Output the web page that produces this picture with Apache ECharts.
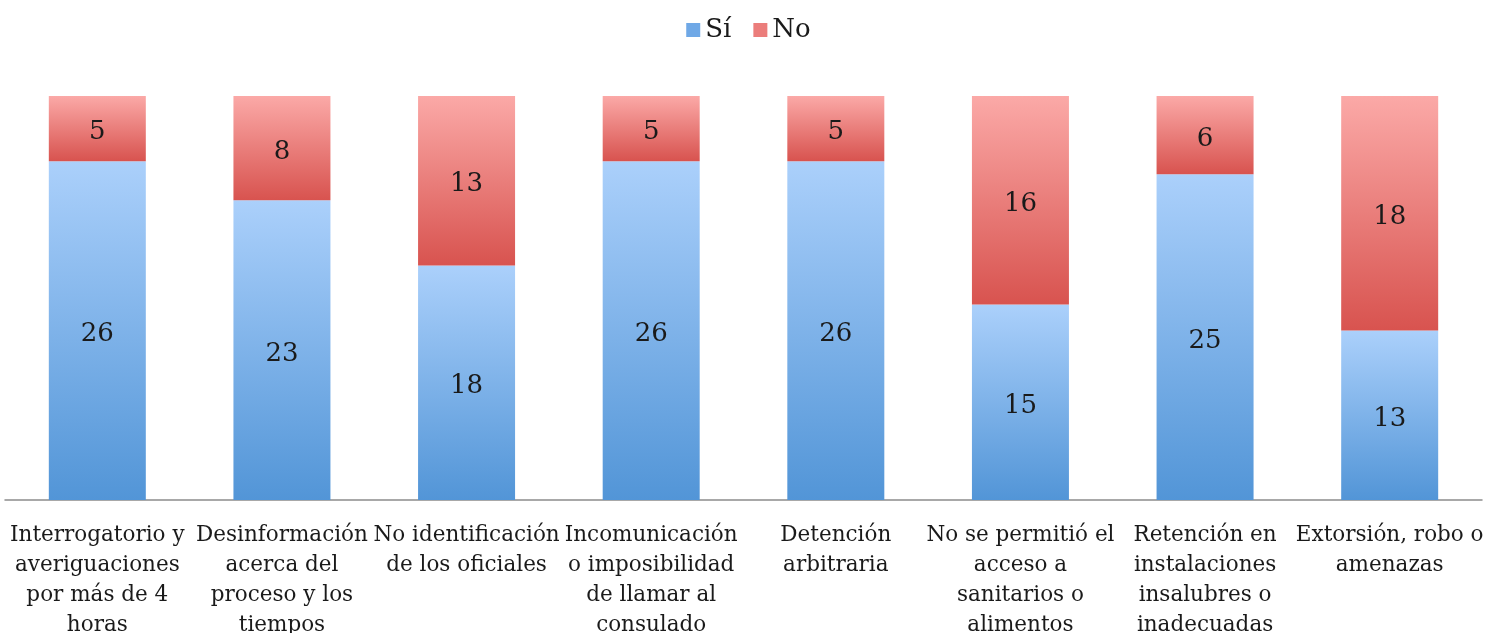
<!DOCTYPE html>
<html><head><meta charset="utf-8">
<script src="https://cdn.jsdelivr.net/npm/echarts@6/dist/echarts.min.js"></script>
<style>html,body{margin:0;padding:0;background:#fff}#c{width:1497px;height:633px}</style>
</head><body><div id="c"></div>
<script>
const categories = [
  "Interrogatorio y\naveriguaciones\npor más de 4\nhoras",
  "Desinformación\nacerca del\nproceso y los\ntiempos",
  "No identificación\nde los oficiales",
  "Incomunicación\no imposibilidad\nde llamar al\nconsulado",
  "Detención\narbitraria",
  "No se permitió el\nacceso a\nsanitarios o\nalimentos",
  "Retención en\ninstalaciones\ninsalubres o\ninadecuadas",
  "Extorsión, robo o\namenazas"
];
const siValues = [26, 23, 18, 26, 26, 15, 25, 13];
const noValues = [5, 8, 13, 5, 5, 16, 6, 18];

const font = "DejaVu Serif";
const grad = (top, bottom) => new echarts.graphic.LinearGradient(0, 0, 0, 1, [
  {offset: 0, color: top}, {offset: 1, color: bottom}
]);
const chart = echarts.init(document.getElementById('c'));
chart.setOption({
  animation: false,
  legend: {
    top: 12, left: 'center', itemWidth: 14, itemHeight: 14, itemGap: 22,
    textStyle: {fontFamily: font, fontSize: 26, color: '#1a1a1a'},
    data: [
      {name: 'Sí', icon: 'rect', itemStyle: {color: '#6fa8e6'}},
      {name: 'No', icon: 'rect', itemStyle: {color: '#eb7d7b'}}
    ]
  },
  grid: {left: 5, right: 15, top: 96, bottom: 133, containLabel: false, outerBoundsMode: 'none'},
  xAxis: {
    type: 'category', data: categories,
    axisLine: {lineStyle: {color: '#8c8c8c', width: 1.5}},
    axisTick: {show: false},
    axisLabel: {fontFamily: font, fontSize: 21.5, color: '#1a1a1a', lineHeight: 30, margin: 20, interval: 0}
  },
  yAxis: {type: 'value', min: 0, max: 31, show: false, splitLine: {show: false}},
  series: [
    {name: 'Sí', type: 'bar', stack: 't', data: siValues, barWidth: 97,
     itemStyle: {color: grad('#abd0fb', '#5295d7')},
     label: {show: true, position: 'inside', offset: [0, 4], fontFamily: font, fontSize: 26, color: '#1a1a1a'}},
    {name: 'No', type: 'bar', stack: 't', data: noValues, barWidth: 97,
     itemStyle: {color: grad('#fba9a7', '#d8534f')},
     label: {show: true, position: 'inside', offset: [0, 4], fontFamily: font, fontSize: 26, color: '#1a1a1a'}}
  ]
});
</script></body></html>
